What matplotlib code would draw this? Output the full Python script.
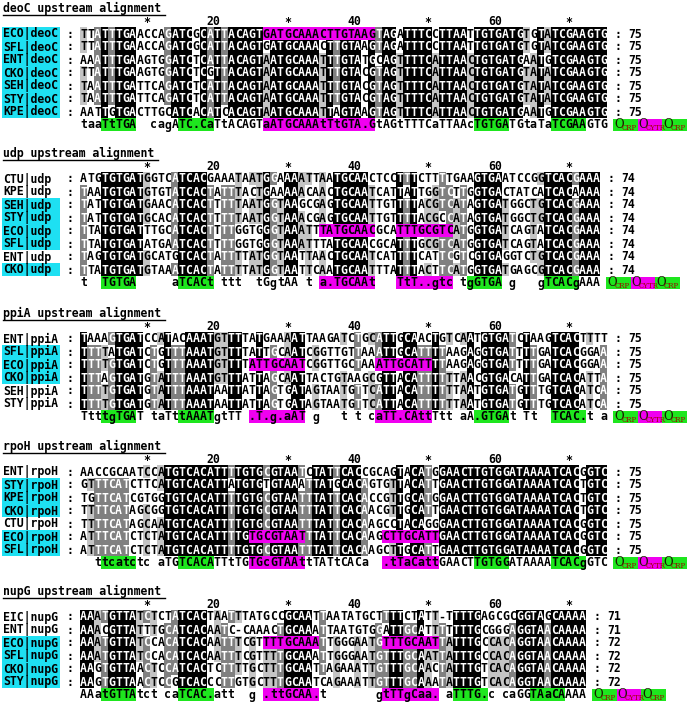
import matplotlib
matplotlib.use('Agg')
import matplotlib.pyplot as plt
from matplotlib.patches import Rectangle
from collections import Counter

# ---------------- data ----------------
deoC_names = ['ECO|deoC', 'SFL|deoC', 'ENT|deoC', 'CKO|deoC', 'SEH|deoC', 'STY|deoC', 'KPE|deoC']
deoC_cyan = [1, 1, 1, 1, 1, 1, 1]
deoC_seqs = [
    'TTATTTGAACCAGATCGCATTACAGTGATGCAAACTTGTAAGTAGATTTCCTTAATTGTGATGTGTATCGAAGTG',
    'TTATTTGAACCAGATCGCATTACAGTGATGCAAACTTGTAAGTAGATTTCCTTAATTGTGATGTGTATCGAAGTG',
    'AAATTTGAAGTGGATCTCATTACAGTAATGCAAATTTGTATGCAGTTTTCATTAACTGTGATGAATGTCGAAGTG',
    'TTATTTGAAGTGGATCTCGTTACAGTAATGCAAATTTGTACGTAGTTTTCATTAACTGTGATGTATATCGAAGTG',
    'TAATTTGATTCAGATCTCATTACAGTAATGCAAATTTGTACGTAGTTTTCATTAACTGTGATGTATATCGAAGTG',
    'TAATTTGATTCAGATCTCATTACAGTAATGCAAATTTGTACGTAGTTTTCATTAACTGTGATGTATATCGAAGTG',
    'AATTGTGACTTGCATCACATCACAGTAATGCAAATTAGTAAGTAGTTTTCATTAACTGTGATGAATGTCGAAGTG',
]
deoC_counts = [75, 75, 75, 75, 75, 75, 75]
deoC_cons = 'taaTtTGA  cagATC.CaTtACAGTaATGCAAAtTtGTA.GtAGtTTTCaTTAAcTGTGATGtaTaTCGAAGTG'
deoC_green = [(4, 8), (15, 19), (57, 61), (68, 72)]
deoC_magenta = [(27, 42)]

udp_names = ['CTU|udp', 'KPE|udp', 'SEH|udp', 'STY|udp', 'ECO|udp', 'SFL|udp', 'ENT|udp', 'CKO|udp']
udp_cyan = [0, 0, 1, 1, 1, 1, 0, 1]
udp_seqs = [
    'ATGTGTGATGGTCATCACGAAATAATGGAAAATTAATGCAACTCCTTTCTTTTGAAGTGAATCCGGTCACGAAA',
    'TAATGTGATGTGTATCACTATTTACTGAAAAACAACTGCAATCATTATTGGTCTTGGTGACTATCATCACAAAA',
    'TATTGTGATGAACATCACTTTTTAATGGTAAGCGAGTGCAATTGTTTTACGTCATAGTGATGGCTGTCACGAAA',
    'TATTGTGATGCACATCACTTTTTAATGGTAAACGAGTGCAATTGTTTTACGCCATAGTGATGGCTGTCACGAAA',
    'TTATGTGATTTGCATCACTTTTGGTGGGTAAATTTATGCAACGCATTTGCGTCATGGTGATCAGTATCACGAAA',
    'TTATGTGATATGAATCACTTTTGGTGGGTAAATTTATGCAACGCATTTGCGTCATGGTGATCAGTATCACGAAA',
    'TAGTGTGATGCATGTCACTATTTTATGGTAATTAACTGCAATCATTTTCATTCGTCGTGAGGTCTGTCACGAAA',
    'TTATGTGATGTAAATCACTATTTTATGGTAATTCAATGCAATTTATTTACTTCATGGTGATGAGCGTCACGAAA',
]
udp_counts = [74, 74, 74, 74, 74, 74, 74, 74]
udp_cons = 't  TGTGA     aTCACt ttt  tGgtAA t a.TGCAAt   TtT..gtc tgGTGA g   gTCACgAAA'
udp_green = [(4, 8), (15, 19), (56, 60), (67, 71)]
udp_magenta = [(35, 42), (46, 53)]

ppiA_names = ['ENT|ppiA', 'SFL|ppiA', 'ECO|ppiA', 'CKO|ppiA', 'SEH|ppiA', 'STY|ppiA']
ppiA_cyan = [0, 1, 1, 1, 0, 0]
ppiA_seqs = [
    'TAAAGTGATCCATACAAATGTTTTATGAAAATTAAGATCTGCATTGCAACTGTCAATGTGATCTAAGTCACTTTT',
    'TTTTATGATCTGTTTAAATGTTTTATTGCAATCGGTTGTTAAATTGCATTTTAAGAGGTGATTTTGATCACGGAA',
    'TTTTGTGATCTGTTTAAATGTTTTATTGCAATCGGTTGCTAAATTGCATTTTAAGAGGTGATTTTGATCACGGAA',
    'TTTAGTGATGTATTTAAATGTTTATTAGCAATTACTGTAAGCGTTACATTTTTTAACGTGACATTGATCACATTA',
    'TTTTGTGATGTATTTAAATAATTATTAGTGATAGTAATGTTCATTACATTTTTTAATGTGATGTTTGTCACATCA',
    'TTTTGTGATGTATTTAAATAATTATTAGTGATAGTAATGTTCATTACATTTTTTAATGTGATGTTTGTCACATCA',
]
ppiA_counts = [75, 75, 75, 75, 75, 75]
ppiA_cons = 'TtttgTGAT taTttAAATgtTT .T.g.aAT g   t t caTT.CAttTtt aA.GTGAt Tt  TCAC.t a'
ppiA_green = [(4, 8), (15, 19), (57, 61), (68, 72)]
ppiA_magenta = [(25, 32), (43, 50)]

rpoH_names = ['ENT|rpoH', 'STY|rpoH', 'KPE|rpoH', 'CKO|rpoH', 'CTU|rpoH', 'ECO|rpoH', 'SFL|rpoH']
rpoH_cyan = [0, 1, 1, 1, 0, 1, 1]
rpoH_seqs = [
    'AACCGCAATCCATGTCACATTTTGTGCGTAATCTATTCACCGCAGTACATGGAACTTGTGGATAAAATCACGGTC',
    'GTTTCATCTTCATGTCACATTATGTGTGTAAATTATGCACAGTGTTACATTGAACTTGTGGATAAAATCACTGTC',
    'TGTTCATCGTGGTGTCACATTTTGTGCGTAATTTATTCACACCGTTGCATGGAACTTGTGGATAAAATCACTGTC',
    'TTTTCATAGCGGTGTCACATTTTGTGCGTAATTTATTCACAACGTTGCATTGAACTTGTGGATAAAATCACTGTC',
    'TTTTCATAGCAATGTCACATTTTGTGCGTAATTTATTCACAAGCCTACAGGGAACTTGTGGATAAAATCACGGTC',
    'ATTTCATCTCTATGTCACATTTTGTGCGTAATTTATTCACAAGCTTGCATTGAACTTGTGGATAAAATCACGGTC',
    'ATTTCATCTCTATGTCACATTTTGTGCGTAATTTATTCACAAGCTTGCATTGAACTTGTGGATAAAATCACGGTC',
]
rpoH_counts = [75, 75, 75, 75, 75, 75, 75]
rpoH_cons = '  ttcatctc aTGTCACATTtTGTGcGTAAttTATtCACa  .tTaCattGAACTTGTGGATAAAATCACgGTC'
rpoH_green = [(4, 8), (15, 19), (57, 61), (68, 72)]
rpoH_magenta = [(25, 32), (44, 51)]

nupG_names = ['EIC|nupG', 'ENT|nupG', 'ECO|nupG', 'SFL|nupG', 'CKO|nupG', 'STY|nupG']
nupG_cyan = [0, 0, 1, 1, 1, 1]
nupG_seqs = [
    'AAATGTTATCTCTATCACTAATTTATGCCGCAATTAATATGCTTTTCTATT-TTTTGAGCGCGGTAGCAAAA',
    'AAACGTTATTTGCATCACAATC-CAAACTGCAAATTAATGTGGATTGCATTTTTTTGCGGGAGGTAACAAAA',
    'AAATGTTATCCACATCACAATTTCGTTTTGCAAATTGGGAATGTTTGCAATTATTTGCCACAGGTAACAAAA',
    'AAATGTTATCCACATCACAATTTCGTTTTGCAAATTGGGAATGTTTGCAATTATTTGCCACAGGTAACAAAA',
    'AAGTGTTAACTCCATCACTCTTTTGCTTTGCAATTAGAAATTGTTTGCAACTATTTGTCACAGGTAACAAAA',
    'AAGTGTTAACTCCGTCACCCTTGTGCTTTGCAATCAGAAATTGTTTGCAAATATTTGTCACAGGTAACAAAA',
]
nupG_counts = [71, 71, 72, 72, 72, 72]
nupG_cons = 'AAatGTTAtct caTCAC.att  g .ttGCAA.t       gtTTgCaa. aTTTG.c caGGTAaCAAAA'
nupG_green = [(4, 8), (15, 19), (54, 58), (65, 69)]
nupG_magenta = [(27, 34), (44, 51)]

titles = ['deoC upstream alignment', 'udp upstream alignment', 'ppiA upstream alignment',
          'rpoH upstream alignment', 'nupG upstream alignment']
eco_rows = [0, 4, 2, 5, 2]
site_labels = ['CRP', 'CYTR', 'CRP']

blocks = [
    (deoC_names, deoC_cyan, deoC_seqs, deoC_counts, deoC_cons, deoC_green, deoC_magenta),
    (udp_names, udp_cyan, udp_seqs, udp_counts, udp_cons, udp_green, udp_magenta),
    (ppiA_names, ppiA_cyan, ppiA_seqs, ppiA_counts, ppiA_cons, ppiA_green, ppiA_magenta),
    (rpoH_names, rpoH_cyan, rpoH_seqs, rpoH_counts, rpoH_cons, rpoH_green, rpoH_magenta),
    (nupG_names, nupG_cyan, nupG_seqs, nupG_counts, nupG_cons, nupG_green, nupG_magenta),
]

# ---------------- layout ----------------
title_y = [8, 153, 313, 446, 591]
X0 = 80.0
CW = 7.03
RH = 13.0
FONT = 'DejaVu Sans Mono'
FS = 8.3
BASE = 4.0  # baseline offset below row centre

BLACK = '#000000'
DGREY = '#808080'
LGREY = '#c4c4c4'
MAGENTA = '#f000f0'
GREEN = '#1ee61e'
CYAN = '#1ee0f2'

fig = plt.figure(figsize=(6.89, 7.07), dpi=100)
ax = fig.add_axes([0, 0, 1, 1])
ax.set_xlim(0, 689)
ax.set_ylim(707, 0)
ax.axis('off')


def txt(x, y, s, color='black', ha='left', size=FS):
    ax.text(x, y + BASE, s, ha=ha, va='baseline', family=FONT, weight='bold',
            size=size, color=color)


def box(c0, c1, yc, color):
    # c0..c1 inclusive, 1-based columns
    ax.add_patch(Rectangle((X0 + (c0 - 1) * CW, yc - RH / 2), (c1 - c0 + 1) * CW, RH,
                           facecolor=color, edgecolor='none', lw=0))


def in_ranges(col, ranges):
    return any(a <= col <= b for a, b in ranges)


for b, (names, cyan, seqs, counts, cons, green, magenta) in enumerate(blocks):
    ty = title_y[b]
    L = len(seqs[0])
    # title with underline
    txt(3, ty, titles[b])
    ax.plot([3, 3 + len(titles[b]) * CW], [ty + BASE + 2.5] * 2, color='black', lw=1)

    # ruler
    ry = ty + 13
    for k in range(10, L + 1, 20):
        txt(X0 + (k - 0.5) * CW, ry + 1, '*', ha='center')
    for k in range(20, L + 1, 20):
        txt(X0 + k * CW, ry, str(k), ha='right')

    # column conservation
    n = len(seqs)
    cons_res = []
    for j in range(L):
        cnt = Counter(s[j] for s in seqs if s[j] != '-')
        res, k = cnt.most_common(1)[0]
        cons_res.append((res, k / n))

    for i, seq in enumerate(seqs):
        yc = ty + 25.5 + i * RH
        if cyan[i]:
            ax.add_patch(Rectangle((2, yc - RH / 2), 58, RH, facecolor=CYAN,
                                   edgecolor='none', lw=0))
        txt(3, yc, names[i])
        txt(X0 - 10, yc, ':', ha='center')
        txt(X0 + (L + 1.5) * CW, yc, ':', ha='center')
        txt(X0 + (L + 3) * CW, yc, str(counts[i]))

        bgs, fgs = [], []
        for j, ch in enumerate(seq):
            col = j + 1
            res, frac = cons_res[j]
            bg, fg = None, 'black'
            if i == eco_rows[b] and in_ranges(col, magenta):
                bg = MAGENTA
            elif ch == res:
                if frac >= 0.999:
                    bg, fg = BLACK, 'white'
                elif frac >= 0.8:
                    bg, fg = DGREY, 'white'
                elif frac >= 0.6:
                    bg = LGREY
            bgs.append(bg)
            fgs.append(fg)
        # merge runs of identical background
        j = 0
        while j < L:
            k = j
            while k + 1 < L and bgs[k + 1] == bgs[j]:
                k += 1
            if bgs[j] is not None:
                box(j + 1, k + 1, yc, bgs[j])
            j = k + 1
        for j, ch in enumerate(seq):
            txt(X0 + (j + 0.5) * CW, yc, ch, color=fgs[j], ha='center')

    # consensus line
    yc = ty + 25.5 + n * RH
    for a, c in green:
        box(a, c, yc, GREEN)
    for a, c in magenta:
        box(a, c, yc, MAGENTA)
    for j, ch in enumerate(cons):
        if ch != ' ':
            txt(X0 + (j + 0.5) * CW, yc, ch, ha='center')

    # operator labels
    x = X0 + L * CW + 6
    bw = 24.5
    for lab, colr in zip(site_labels, [GREEN, MAGENTA, GREEN]):
        ax.add_patch(Rectangle((x, yc - RH / 2 + 0.5), bw, RH - 1, facecolor=colr,
                               edgecolor='none', lw=0))
        ax.text(x + 1, yc + BASE, 'O', ha='left', va='baseline', family='DejaVu Serif',
                size=8.5, color='#1a1a00')
        ax.text(x + 8, yc + BASE + 1.5, lab, ha='left', va='baseline', family='DejaVu Serif',
                size=5, color='#a00000')
        x += bw

fig.savefig('out.png', dpi=100)
